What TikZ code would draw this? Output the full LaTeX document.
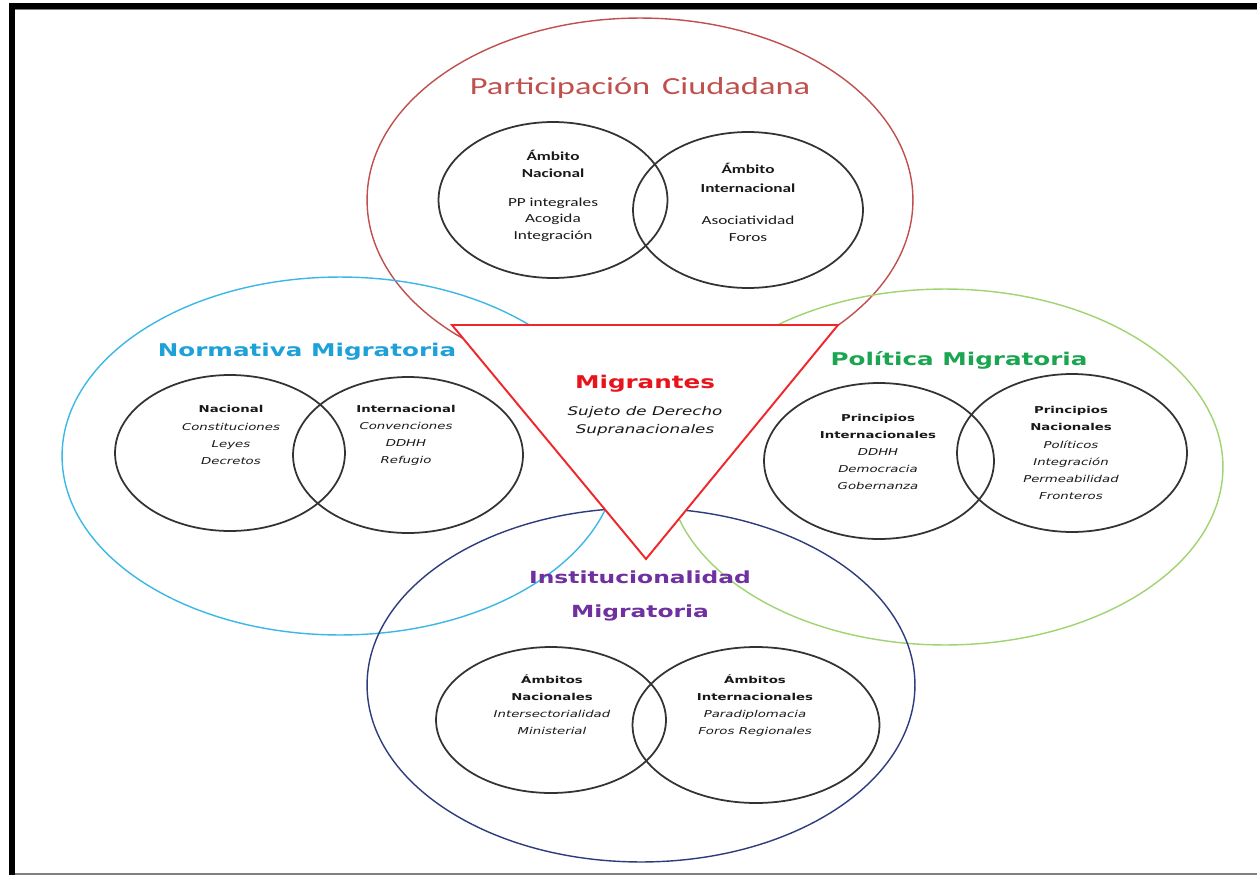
\documentclass[tikz,border=0pt]{standalone}
\usepackage{fontspec}
\setmainfont{DejaVu Sans}[FakeStretch=1.4]
\newfontfamily\calibfont{Carlito}[FakeStretch=1.4]
\usetikzlibrary{shapes.geometric}

\definecolor{partred}{RGB}{192,80,77}
\definecolor{normblue}{RGB}{60,184,232}
\definecolor{normtext}{RGB}{30,160,216}
\definecolor{politgreen}{RGB}{160,212,112}
\definecolor{polittext}{RGB}{26,165,80}
\definecolor{instnavy}{RGB}{46,60,126}
\definecolor{insttext}{RGB}{112,48,160}
\definecolor{trired}{RGB}{240,38,43}
\definecolor{migred}{RGB}{232,20,28}

\newcommand{\head}[1]{\textup{\textbf{#1}}}

\begin{document}
\begin{tikzpicture}[x=0.02cm, y=-0.02cm,
    ring/.style={ellipse, draw, line width=0.8pt, inner sep=0pt},
    venn/.style={ellipse, draw=black!80, line width=1pt, inner sep=0pt,
        minimum width=4.6cm, minimum height=3.12cm},
    title/.style={font=\bfseries\fontsize{10}{19}\selectfont, align=center},
    info/.style={font=\itshape\fontsize{5.4}{9.7}\selectfont, align=center, text=black!90},
    pinfo/.style={font=\calibfont\fontsize{7}{9.4}\selectfont, align=center, text=black!90},
    tri/.style={draw=trired, line width=1.1pt, fill=white, line join=miter}
]
    \useasboundingbox (0,0) rectangle (1257,875);
    \fill[white] (0,0) rectangle (1257,875);
    % frame
    \fill[black] (9,3) rectangle (1257,9);
    \fill[black] (9,3) rectangle (15,875);
    \draw[gray, line width=0.6pt] (15,9.8) -- (1257,9.8);
    \draw[gray, line width=0.8pt] (15,874) -- (1257,874);

    % outer rings
    \node[ring, draw=partred, minimum width=10.92cm, minimum height=7.28cm] (partic) at (640,200) {};
    \node[ring, draw=normblue, minimum width=11.12cm, minimum height=7.16cm] (norm) at (340,456) {};
    \node[ring, draw=politgreen, minimum width=11.12cm, minimum height=7.12cm] (polit) at (945,467) {};
    \node[ring, draw=instnavy, minimum width=10.96cm, minimum height=7.08cm] (inst) at (641,685) {};

    % centre triangle
    \coordinate (tl) at (452,325);
    \coordinate (tr) at (838,325);
    \coordinate (tb) at (646,559);
    \draw[tri] (tl) -- (tr) -- (tb) -- cycle;
    \node[title, text=migred] (migr) at (645,384) {Migrantes};
    \node[info, font=\itshape\fontsize{6.8}{10.2}\selectfont] (migrsub) at (645,421)
        {Sujeto de Derecho\\Supranacionales};

    % Participacion Ciudadana
    \node[font=\calibfont\fontsize{14}{16}\selectfont, text=partred] (partictitle) at (640,88)
        {Participación\, Ciudadana};
    \node[venn, minimum width=4.58cm] (particnac) at (553,200) {};
    \node[venn, minimum width=4.6cm] (particint) at (748,210) {};
    \node[pinfo] (particnactxt) at (553,196)
        {\textbf{Ámbito}\\\textbf{Nacional}\\[7pt]PP integrales\\Acogida\\Integración};
    \node[pinfo] (particinttxt) at (748,202)
        {\textbf{Ámbito}\\[1.5pt]\textbf{Internacional}\\[9pt]Asociatividad\\Foros};

    % Normativa Migratoria
    \node[title, text=normtext] (normtitle) at (307,352) {Normativa Migratoria};
    \node[venn] (normnac) at (230,453) {};
    \node[venn] (normint) at (408,455) {};
    \node[info] (normnactxt) at (231,435) {\head{Nacional}\\Constituciones\\Leyes\\Decretos};
    \node[info] (norminttxt) at (406,435) {\head{Internacional}\\Convenciones\\DDHH\\Refugio};

    % Politica Migratoria
    \node[title, text=polittext] (polittitle) at (959,360) {Política Migratoria};
    \node[venn] (politint) at (879,461) {};
    \node[venn, minimum height=3.16cm] (politnac) at (1072,453) {};
    \node[info] (politinttxt) at (878,452)
        {\head{Principios}\\\head{Internacionales}\\DDHH\\Democracia\\Gobernanza};
    \node[info] (politnactxt) at (1071,453)
        {\head{Principios}\\\head{Nacionales}\\Políticos\\Integración\\Permeabilidad\\Fronteros};

    % Institucionalidad Migratoria
    \node[title, text=insttext, font=\bfseries\fontsize{9.5}{19}\selectfont] (insttitle) at (640,596)
        {Institucionalidad\\Migratoria};
    \node[venn, minimum height=2.92cm] (instnac) at (551,720) {};
    \node[venn, minimum width=4.94cm] (instint) at (756,725) {};
    \node[info] (instnactxt) at (552,705)
        {\head{Ámbitos}\\\head{Nacionales}\\Intersectorialidad\\Ministerial};
    \node[info] (instinttxt) at (755,706)
        {\head{Ámbitos}\\\head{Internacionales}\\Paradiplomacia\\Foros Regionales};
\end{tikzpicture}
\end{document}
